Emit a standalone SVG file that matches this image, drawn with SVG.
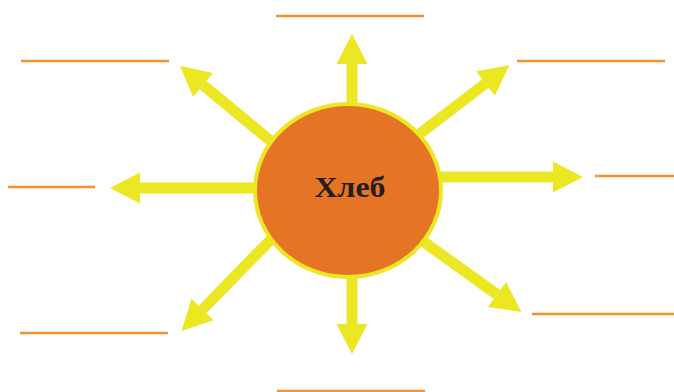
<svg xmlns="http://www.w3.org/2000/svg" width="674" height="392" viewBox="0 0 674 392">
<style>
.shaft{stroke:#EBE723;stroke-width:11;fill:none;marker-end:url(#head)}
.blank{stroke:#F39233;stroke-width:2.4}
.label{font-family:"Liberation Serif","DejaVu Serif",serif;font-weight:bold;font-size:30px;fill:#231F20}
</style>
<defs>
<marker id="head" markerUnits="userSpaceOnUse" viewBox="0 -16 31 32" markerWidth="31" markerHeight="32" refX="0" refY="0" orient="auto" overflow="visible">
<path d="M0,-15.5 L30,0 L0,15.5 Z" fill="#EBE723"/>
</marker>
</defs>
<rect width="674" height="392" fill="#FFFFFF"/>
<g id="connectors">
<line class="shaft" x1="352" y1="130" x2="352" y2="64"/>
<line class="shaft" x1="352" y1="250" x2="352" y2="324"/>
<line class="shaft" x1="420" y1="177" x2="553" y2="177"/>
<line class="shaft" x1="280" y1="188" x2="140" y2="188"/>
<line class="shaft" x1="290" y1="157" x2="203" y2="85"/>
<line class="shaft" x1="405" y1="145" x2="485.5" y2="83.5"/>
<line class="shaft" x1="285" y1="225" x2="202.5" y2="309.5"/>
<line class="shaft" x1="410" y1="232" x2="497" y2="294.5"/>
</g>
<g id="center">
<ellipse cx="348" cy="190.5" rx="93" ry="86.5" fill="#E57424" stroke="#EBE723" stroke-width="4"/>
<text class="label" x="350" y="197" text-anchor="middle" textLength="71" lengthAdjust="spacingAndGlyphs">Хлеб</text>
</g>
<g id="blank-top"><line class="blank" x1="276" y1="16" x2="424" y2="16"/></g>
<g id="blank-top-left"><line class="blank" x1="21" y1="61" x2="169" y2="61"/></g>
<g id="blank-top-right"><line class="blank" x1="517" y1="61" x2="665" y2="61"/></g>
<g id="blank-left"><line class="blank" x1="8" y1="187" x2="95" y2="187"/></g>
<g id="blank-right"><line class="blank" x1="595" y1="176" x2="674" y2="176"/></g>
<g id="blank-bottom-left"><line class="blank" x1="20" y1="333" x2="168" y2="333"/></g>
<g id="blank-bottom-right"><line class="blank" x1="532" y1="314" x2="674" y2="314"/></g>
<g id="blank-bottom"><line class="blank" x1="277" y1="391" x2="425" y2="391"/></g>
</svg>
